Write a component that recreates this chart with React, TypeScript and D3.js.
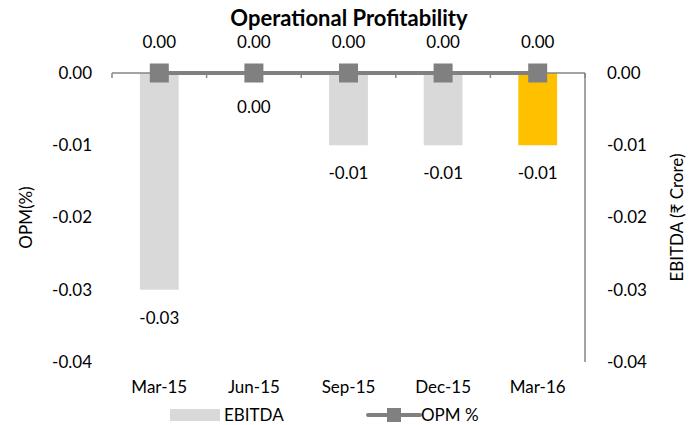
import React from 'react';
import * as d3 from 'd3';

const categories = ['Mar-15', 'Jun-15', 'Sep-15', 'Dec-15', 'Mar-16'];
const ebitda = [-0.03, 0, -0.01, -0.01, -0.01];
const opm = [0, 0, 0, 0, 0];
const tickValues = [0, -0.01, -0.02, -0.03, -0.04];

const W = 695;
const H = 425;
const margin = { top: 73, right: 110, bottom: 63, left: 112 };
const FONT = 'Lato, "Open Sans", sans-serif';
const FS = 17;

export default function App() {
  const x = d3.scaleBand<string>()
    .domain(categories)
    .range([margin.left, W - margin.right])
    .paddingInner(0)
    .paddingOuter(0);

  // left axis (OPM) and right axis (EBITDA) share the same range
  const yLeft = d3.scaleLinear().domain([0, -0.04]).range([margin.top, H - margin.bottom]);
  const yRight = d3.scaleLinear().domain([0, -0.04]).range([margin.top, H - margin.bottom]);

  const barW = x.bandwidth() * 0.41;
  const cx = (c: string) => (x(c) as number) + x.bandwidth() / 2;

  const line = d3.line<number>()
    .x((_, i) => cx(categories[i]))
    .y(d => yLeft(d));

  // plain hyphen for negatives, like the original
  const fmt = d3.formatLocale({ decimal: '.', thousands: ',', grouping: [3], currency: ['', ''], minus: '-' }).format('.2f');
  const axisColor = '#868686';
  const x0 = margin.left;
  const x1 = W - margin.right;

  return (
    <svg width={W} height={H} style={{ position: 'absolute', left: 0, top: 0 }} fontFamily={FONT}>
      <rect width={W} height={H} fill="#fff" />

      <text x={349} y={26} textAnchor="middle" fontSize={22} fontWeight="bold" fill="#000">
        Operational Profitability
      </text>

      {/* bars */}
      {ebitda.map((v, i) => {
        const y0 = yRight(0);
        const y1 = yRight(v);
        return (
          <rect
            key={'b' + i}
            x={cx(categories[i]) - barW / 2}
            y={Math.min(y0, y1)}
            width={barW}
            height={Math.abs(y1 - y0)}
            fill={i === ebitda.length - 1 ? '#FFC000' : '#D9D9D9'}
          />
        );
      })}

      {/* category axis at zero */}
      <line x1={x0} x2={x1} y1={yLeft(0)} y2={yLeft(0)} stroke={axisColor} strokeWidth={1.5} />
      {d3.range(categories.length + 1).map(i => {
        const tx = x0 + i * x.bandwidth();
        return <line key={'t' + i} x1={tx} x2={tx} y1={yLeft(0)} y2={yLeft(0) + 5} stroke={axisColor} strokeWidth={1.5} />;
      })}

      {/* right axis line */}
      <line x1={x1} x2={x1} y1={yRight(0)} y2={yRight(-0.04)} stroke={axisColor} strokeWidth={1.5} />

      {/* bar labels */}
      {ebitda.map((v, i) => (
        <text key={'bl' + i} x={cx(categories[i])} y={yRight(v) + (v === 0 ? 34 : 28)} dy="0.35em"
          textAnchor="middle" fontSize={FS} fill="#000">
          {fmt(v)}
        </text>
      ))}

      {/* OPM line */}
      <path d={line(opm) as string} fill="none" stroke="#808080" strokeWidth={4} />
      {opm.map((v, i) => (
        <rect key={'m' + i} x={cx(categories[i]) - 9.5} y={yLeft(v) - 9.5} width={19} height={19} fill="#808080" />
      ))}
      {opm.map((v, i) => (
        <text key={'ml' + i} x={cx(categories[i])} y={yLeft(v) - 31} dy="0.35em"
          textAnchor="middle" fontSize={FS} fill="#000">
          {fmt(v)}
        </text>
      ))}

      {/* left ticks */}
      {tickValues.map(t => (
        <text key={'lt' + t} x={92} y={yLeft(t)} dy="0.35em" textAnchor="end" fontSize={FS} fill="#000">
          {fmt(t)}
        </text>
      ))}
      {/* right ticks */}
      {tickValues.map(t => (
        <text key={'rt' + t} x={607} y={yRight(t)} dy="0.35em" textAnchor="start" fontSize={FS} fill="#000">
          {fmt(t)}
        </text>
      ))}

      {/* x labels */}
      {categories.map(c => (
        <text key={'x' + c} x={cx(c)} y={387} dy="0.35em" textAnchor="middle" fontSize={FS} fill="#000">
          {c}
        </text>
      ))}

      {/* axis titles */}
      <text transform={`translate(26,${(yLeft(0) + yLeft(-0.04)) / 2}) rotate(-90)`} textAnchor="middle"
        dy="0.35em" fontSize={FS} fill="#000">
        OPM(%)
      </text>
      <text transform={`translate(677,${(yRight(0) + yRight(-0.04)) / 2}) rotate(-90)`} textAnchor="middle"
        dy="0.35em" fontSize={FS} fill="#000">
        EBITDA (₹ Crore)
      </text>

      {/* legend */}
      <rect x={170} y={409} width={50} height={12} fill="#D9D9D9" />
      <text x={224} y={415} dy="0.35em" fontSize={FS} fill="#000">EBITDA</text>
      <line x1={368} x2={420} y1={415} y2={415} stroke="#808080" strokeWidth={4} strokeLinecap="round" />
      <rect x={387} y={408} width={14} height={14} fill="#808080" />
      <text x={421} y={415} dy="0.35em" fontSize={FS} fill="#000">OPM %</text>
    </svg>
  );
}
